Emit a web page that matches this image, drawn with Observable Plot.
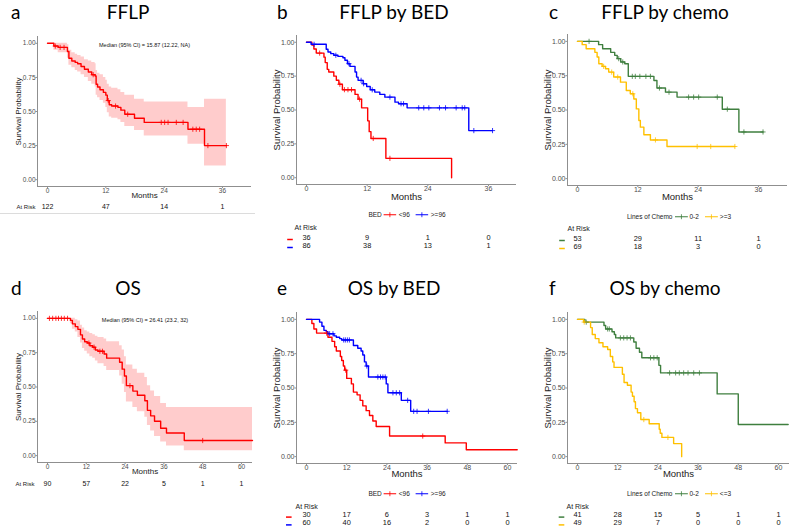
<!DOCTYPE html>
<html><head><meta charset="utf-8">
<script src="https://cdn.jsdelivr.net/npm/d3@7"></script>
<script src="https://cdn.jsdelivr.net/npm/@observablehq/plot@0.6"></script>
<style>
html,body{margin:0;padding:0;background:#fff;}
#root{position:relative;width:791px;height:530px;overflow:hidden;font-family:"Liberation Sans",Arial,sans-serif;}
.panel{position:absolute;}
.ttl{position:absolute;font-family:Lato,"Open Sans",sans-serif;font-size:19px;color:#000;white-space:nowrap;transform:translate(-50%,-50%);line-height:1;}
.let{position:absolute;font-family:Lato,"Open Sans",sans-serif;font-size:19px;color:#000;white-space:nowrap;transform:translate(0,-50%);line-height:1;}
.leg{position:absolute;transform:translate(-50%,-50%);font-size:6.5px;color:#222;white-space:nowrap;display:flex;align-items:center;gap:2px;line-height:1;}
.leg svg{display:block;}
.hr{position:absolute;left:0;top:213px;width:255px;height:0;border-top:1px solid #dcdcdc;}
</style></head><body><div id="root"></div>
<script>
// ---------- data ----------
const ticks36 = [0, 12, 24, 36];
const ticks60 = [0, 12, 24, 36, 48, 60];
const yTicks = [0, 0.25, 0.5, 0.75, 1];

const letters = ["a", "b", "c", "d", "e", "f"];
const titles = ["FFLP", "FFLP by BED", "FFLP by chemo", "OS", "OS by BED", "OS by chemo"];

// a: FFLP (all patients)
const aTime  = [0, 1.3, 2.2, 4.1, 4.4, 5.0, 5.7, 6.2, 6.9, 7.6, 8.4, 9.1, 9.8, 10.0, 10.3, 10.8, 11.5, 12.0, 12.3, 12.7, 13.2, 14.5, 15.1, 15.9, 17.9, 19.9, 28.9, 32.3, 36.8];
const aSurv  = [1, 0.98, 0.97, 0.94, 0.89, 0.87, 0.86, 0.85, 0.83, 0.81, 0.79, 0.77, 0.76, 0.70, 0.68, 0.66, 0.64, 0.62, 0.58, 0.55, 0.54, 0.53, 0.51, 0.48, 0.45, 0.42, 0.37, 0.25, 0.25];
const aUpper = [1, 1, 1, 0.99, 0.95, 0.93, 0.92, 0.91, 0.90, 0.88, 0.87, 0.86, 0.85, 0.80, 0.78, 0.77, 0.75, 0.73, 0.70, 0.68, 0.67, 0.66, 0.64, 0.62, 0.59, 0.57, 0.53, 0.59, 0.59];
const aLower = [1, 0.95, 0.93, 0.89, 0.84, 0.82, 0.80, 0.79, 0.77, 0.75, 0.72, 0.70, 0.68, 0.62, 0.60, 0.58, 0.56, 0.53, 0.49, 0.46, 0.45, 0.44, 0.42, 0.39, 0.36, 0.32, 0.26, 0.10, 0.10];
const aCensor = [1.6, 2.6, 3.4, 9.4, 12.5, 14.0, 16.5, 23.4, 24.1, 24.8, 26.5, 27.9, 29.9, 30.6, 31.3, 33.0, 36.8];
const aRisk = [122, 47, 14, 1];
const aMedian = "Median (95% CI) = 15.87 (12.22, NA)";

// b: FFLP by BED
const bLowTime  = [0, 1.06, 1.46, 1.93, 3.45, 3.7, 4.1, 4.4, 5.4, 5.9, 6.4, 7.1, 9.6, 10.2, 10.9, 12.1, 12.4, 12.75, 15.7, 28.7];
const bLowSurv  = [1, 0.98, 0.95, 0.92, 0.89, 0.85, 0.80, 0.78, 0.75, 0.72, 0.69, 0.65, 0.615, 0.58, 0.516, 0.42, 0.34, 0.29, 0.143, 0];
const bLowCensor = [2.6, 6.6, 7.5, 8.2, 8.9, 10.5, 13.2, 16.5];
const bLowRisk = [36, 9, 1, 0];
const bHighTime = [0, 0.9, 3.9, 4.25, 4.8, 5.4, 6.2, 7.2, 7.6, 8.1, 8.6, 9.6, 9.9, 10.2, 11.2, 11.9, 12.6, 13.5, 14.5, 15.5, 17.5, 18.2, 19.9, 32.1, 36.8];
const bHighSurv = [1, 0.985, 0.948, 0.928, 0.916, 0.904, 0.896, 0.886, 0.867, 0.842, 0.822, 0.78, 0.743, 0.719, 0.694, 0.674, 0.649, 0.632, 0.615, 0.595, 0.558, 0.546, 0.516, 0.348, 0.348];
const bHighCensor = [1.5, 5.8, 8.4, 10.8, 11.3, 13.0, 16.5, 18.7, 19.2, 22.2, 23.2, 24.2, 26.3, 27.5, 29.6, 30.8, 31.3, 33.1, 36.8];
const bHighRisk = [86, 38, 13, 1];

// c: FFLP by chemo
const cLowTime  = [0, 4.2, 5.0, 6.6, 7.4, 7.9, 8.6, 9.4, 10.1, 15.2, 15.8, 17.5, 19.8, 28.8, 32.1, 36.9];
const cLowSurv  = [1, 0.976, 0.946, 0.92, 0.898, 0.874, 0.85, 0.837, 0.745, 0.715, 0.66, 0.63, 0.594, 0.506, 0.34, 0.34];
const cLowCensor = [2.3, 8.2, 9.0, 10.9, 11.5, 12.4, 13.6, 14.5, 16.3, 18.2, 22.1, 23.1, 24.1, 27.8, 29.8, 33.1, 36.9];
const cLowRisk = [53, 29, 11, 1];
const cHighTime = [0, 0.93, 1.72, 3.45, 3.9, 4.24, 4.9, 5.57, 6.2, 7.2, 8.55, 9.7, 10.5, 11.2, 11.7, 12.2, 12.5, 13.2, 14.5, 17.8, 31.3];
const cHighSurv = [1, 0.976, 0.946, 0.92, 0.886, 0.837, 0.818, 0.80, 0.776, 0.74, 0.703, 0.642, 0.618, 0.58, 0.508, 0.423, 0.375, 0.32, 0.282, 0.234, 0.234];
const cHighCensor = [5.2, 6.8, 8.0, 11.0, 15.5, 23.8, 26.5, 31.3];
const cHighRisk = [69, 18, 3, 0];

// d: OS (all patients)
const dTime  = [0, 7.1, 7.7, 8.6, 9.4, 10.2, 10.8, 11.5, 12.3, 13.1, 14.0, 14.8, 15.6, 17.5, 18.3, 22.3, 23.1, 23.8, 24.4, 26.4, 27.8, 30.1, 30.9, 31.9, 33.1, 35.0, 36.8, 42.3, 63.4];
const dSurv  = [1, 0.985, 0.96, 0.94, 0.92, 0.88, 0.85, 0.83, 0.82, 0.80, 0.79, 0.77, 0.76, 0.74, 0.71, 0.68, 0.63, 0.58, 0.51, 0.47, 0.44, 0.40, 0.33, 0.29, 0.25, 0.20, 0.165, 0.11, 0.11];
const dUpper = [1, 1, 1, 0.99, 0.98, 0.95, 0.93, 0.91, 0.90, 0.89, 0.88, 0.87, 0.86, 0.85, 0.83, 0.80, 0.77, 0.72, 0.66, 0.63, 0.60, 0.57, 0.51, 0.47, 0.43, 0.38, 0.35, 0.35, 0.35];
const dLower = [1, 0.96, 0.92, 0.90, 0.86, 0.82, 0.78, 0.76, 0.74, 0.72, 0.71, 0.69, 0.67, 0.65, 0.62, 0.58, 0.52, 0.46, 0.39, 0.35, 0.32, 0.28, 0.22, 0.18, 0.14, 0.10, 0.07, 0.035, 0.035];
const dCensor = [0.6, 1.6, 2.6, 3.4, 4.3, 5.2, 6.2, 12.8, 14.4, 16.2, 17.0, 25.5, 48.0];
const dRisk = [90, 57, 22, 5, 1, 1];
const dMedian = "Median (95% CI) = 26.41 (23.2, 32)";

// e: OS by BED
const eLowTime  = [0, 1.6, 2.2, 3.0, 6.4, 7.6, 8.4, 8.9, 10.1, 10.5, 11.0, 11.4, 12.0, 13.4, 14.0, 15.1, 16.0, 16.8, 17.8, 18.8, 19.8, 20.8, 24.8, 41.4, 47.7, 62.9];
const eLowSurv  = [1, 0.97, 0.93, 0.90, 0.87, 0.84, 0.80, 0.77, 0.73, 0.70, 0.66, 0.63, 0.57, 0.53, 0.47, 0.45, 0.41, 0.37, 0.335, 0.30, 0.26, 0.22, 0.15, 0.10, 0.05, 0.05];
const eLowCensor = [6.0, 11.7, 34.7];
const eLowRisk = [30, 17, 6, 3, 1, 1];
const eHighTime = [0, 3.9, 4.6, 5.2, 5.9, 6.4, 8.2, 8.9, 9.9, 10.5, 14.0, 15.3, 16.3, 16.8, 17.3, 17.8, 18.5, 23.8, 24.3, 28.3, 31.1, 42.0];
const eHighSurv = [1, 0.98, 0.95, 0.92, 0.91, 0.895, 0.88, 0.87, 0.86, 0.85, 0.81, 0.79, 0.77, 0.74, 0.69, 0.66, 0.58, 0.53, 0.465, 0.41, 0.33, 0.33];
const eHighCensor = [6.9, 7.9, 11.1, 11.6, 12.2, 12.8, 18.0, 21.3, 22.1, 22.8, 23.5, 25.8, 26.8, 27.8, 30.2, 32.0, 33.0, 36.4, 42.0];
const eHighRisk = [60, 40, 16, 2, 0, 0];

// f: OS by chemo
const fLowTime  = [0, 2.2, 7.9, 8.4, 10.3, 11.0, 11.4, 16.8, 17.5, 18.5, 19.2, 24.3, 24.8, 41.7, 48.0, 62.9];
const fLowSurv  = [1, 0.98, 0.955, 0.93, 0.91, 0.89, 0.865, 0.835, 0.79, 0.76, 0.72, 0.665, 0.61, 0.457, 0.234, 0.234];
const fLowCensor = [2.6, 9.0, 9.5, 12.8, 13.8, 14.8, 15.8, 21.8, 22.8, 23.8, 27.5, 29.3, 30.4, 31.7, 33.0, 34.7, 36.4];
const fLowRisk = [41, 28, 15, 5, 1, 1];
const fHighTime = [0, 1.8, 3.9, 4.4, 5.3, 6.4, 7.6, 9.0, 9.8, 10.5, 10.9, 13.4, 13.9, 14.9, 16.0, 16.4, 16.9, 17.3, 17.9, 18.9, 21.4, 24.4, 24.7, 25.2, 28.7, 31.1];
const fHighSurv = [1, 0.98, 0.94, 0.89, 0.86, 0.83, 0.80, 0.78, 0.73, 0.69, 0.65, 0.60, 0.54, 0.52, 0.47, 0.44, 0.40, 0.35, 0.32, 0.27, 0.24, 0.20, 0.17, 0.14, 0.095, 0];
const fHighCensor = [2.0, 19.8, 27.0];
const fHighRisk = [49, 29, 7, 0, 0, 0];

const bedLegend = ["BED", "<96", ">=96"];
const chemoLegendC = ["Lines of Chemo", "0-2", ">=3"];
const chemoLegendF = ["Lines of Chemo", "0-2", "<=3"];

// ---------- styling ----------
const RED = "#FF0000", BLUE = "#0000FF", GREEN = "#3F7F3F", YELLOW = "#FFC000";
const AXIS = "#8f8f8f";
const small = {tick: 6.5, title: 8, risk: 7, riskLabel: 6};
const large = {tick: 7, title: 9.5, risk: 7.4, riskLabel: 7};

const panels = [
  {left: 0, top: 0, width: 265, height: 260, m: [36, 14, 74, 37], x: [-2.06, 41.97], ticks: ticks36, fs: small,
   band: {time: aTime, upper: aUpper, lower: aLower}, median: aMedian,
   series: [{time: aTime, surv: aSurv, censor: aCensor, risk: aRisk, color: RED}],
   t: {months: 11.5, ylab: -19, riskDx: -21, riskDy: 22, rows: [22]}},
  {left: 265, top: 0, width: 265, height: 260, m: [35, 14, 76, 31], x: [-1.98, 41.54], ticks: ticks36, fs: large,
   series: [{time: bLowTime, surv: bLowSurv, censor: bLowCensor, risk: bLowRisk, color: RED},
            {time: bHighTime, surv: bHighSurv, censor: bHighCensor, risk: bHighRisk, color: BLUE}],
   legend: {labels: bedLegend, colors: [RED, BLUE], cx: 142, cy: 215},
   t: {months: 15, ylab: -20, riskDx: -2, riskDy: 45, rows: [55, 63], dashDx: -6.5}},
  {left: 526, top: 0, width: 265, height: 260, m: [34, 4, 75, 41], x: [-1.99, 41.77], ticks: ticks36, fs: large,
   series: [{time: cLowTime, surv: cLowSurv, censor: cLowCensor, risk: cLowRisk, color: GREEN},
            {time: cHighTime, surv: cHighSurv, censor: cHighCensor, risk: cHighRisk, color: YELLOW}],
   legend: {labels: chemoLegendC, colors: [GREEN, YELLOW], cx: 153, cy: 217},
   t: {months: 14.5, ylab: -20, riskDx: 0, riskDy: 45, rows: [55, 63], dashDx: -5.5}},
  {left: 0, top: 265, width: 265, height: 265, m: [46, 13, 68, 37], x: [-3.09, 63.4], ticks: ticks60, fs: small,
   band: {time: dTime, upper: dUpper, lower: dLower}, median: dMedian,
   series: [{time: dTime, surv: dSurv, censor: dCensor, risk: dRisk, color: RED}],
   t: {months: 11.5, ylab: -19, riskDx: -22, riskDy: 23, rows: [23]}},
  {left: 265, top: 265, width: 265, height: 265, m: [47, 13, 67, 31], x: [-2.99, 62.99], ticks: ticks60, fs: large,
   series: [{time: eLowTime, surv: eLowSurv, censor: eLowCensor, risk: eLowRisk, color: RED},
            {time: eHighTime, surv: eHighSurv, censor: eHighCensor, risk: eHighRisk, color: BLUE}],
   legend: {labels: bedLegend, colors: [RED, BLUE], cx: 142, cy: 229},
   t: {months: 13.5, ylab: -20, riskDx: -1, riskDy: 45, rows: [53.6, 61.4], dashDx: -7.7}},
  {left: 526, top: 265, width: 265, height: 265, m: [47, 2, 67, 41], x: [-2.99, 63.3], ticks: ticks60, fs: large,
   series: [{time: fLowTime, surv: fLowSurv, censor: fLowCensor, risk: fLowRisk, color: GREEN},
            {time: fHighTime, surv: fHighSurv, censor: fHighCensor, risk: fHighRisk, color: YELLOW}],
   legend: {labels: chemoLegendF, colors: [GREEN, YELLOW], cx: 153, cy: 229},
   t: {months: 13.5, ylab: -20, riskDx: -1, riskDy: 45, rows: [53.6, 61.4], dashDx: -6}}
];
const titlePos = [[128, 11, 11], [394, 11, 277], [665, 11, 549], [128, 287, 11], [394, 287, 277], [665, 287, 549]];

// ---------- helpers ----------
const stepRows = (time, surv) => time.map((t, i) => ({t, s: surv[i]}));
const censorRows = (time, surv, cens) => cens.map(c => ({t: c, s: surv[Math.max(0, d3.bisectRight(time, c) - 1)]}));
const bandRows = (time, lo, hi) => time.map((t, i) => ({t, lo: lo[i], hi: hi[i]}));
const dashSymbol = {draw(ctx, size) { const w = Math.sqrt(size / Math.PI); ctx.moveTo(-w, 0); ctx.lineTo(w, 0); }};

function buildPanel(p) {
  const marks = [];
  if (p.band) marks.push(Plot.areaY(bandRows(p.band.time, p.band.lower, p.band.upper),
    {x: "t", y1: "lo", y2: "hi", curve: "step-after", fill: RED, fillOpacity: 0.2}));
  for (const s of p.series)
    marks.push(Plot.line(stepRows(s.time, s.surv), {x: "t", y: "s", curve: "step-after", stroke: s.color, strokeWidth: 1.4}));
  for (const s of p.series)
    marks.push(Plot.dot(censorRows(s.time, s.surv, s.censor), {x: "t", y: "s", symbol: "plus", r: 1.8, stroke: s.color, strokeWidth: 0.8}));
  marks.push(Plot.ruleX([p.x[0]], {stroke: AXIS}));
  marks.push(Plot.ruleY([-0.05], {stroke: AXIS}));
  marks.push(Plot.axisX(p.ticks, {tickSize: 2, tickPadding: 0, fontSize: p.fs.tick, stroke: AXIS, fill: "#4d4d4d", label: null}));
  marks.push(Plot.axisY(yTicks, {tickSize: 1.5, tickPadding: 0.5, fontSize: p.fs.tick, stroke: AXIS, fill: "#4d4d4d", label: null, tickFormat: d3.format(".2f")}));
  marks.push(Plot.text(["Months"], {frameAnchor: "bottom", dy: p.t.months, fontSize: p.fs.title, fill: "#222"}));
  marks.push(Plot.text(["Survival Probability"], {frameAnchor: "left", textAnchor: "middle", rotate: -90, dx: p.t.ylab, fontSize: p.fs.title, fill: "#222"}));
  if (p.median) marks.push(Plot.text([p.median], {frameAnchor: "top", dy: 7, fontSize: 5.5, fill: "#111"}));
  marks.push(Plot.text(["At Risk"], {frameAnchor: "bottom-left", textAnchor: "start", dx: p.t.riskDx, dy: p.t.riskDy, fontSize: p.fs.riskLabel, fill: "#222"}));
  p.series.forEach((s, k) => {
    const dy = p.t.rows[k];
    marks.push(Plot.text(p.ticks.map((t, i) => ({t, n: s.risk[i]})), {x: "t", text: d => String(d.n), frameAnchor: "bottom", dy, fontSize: p.fs.risk, fill: "#111"}));
    if (p.series.length > 1) marks.push(Plot.dot([0], {frameAnchor: "bottom-left", dx: p.t.dashDx, dy, symbol: dashSymbol, r: 2.8, fill: "none", stroke: s.color, strokeWidth: 1.5}));
  });
  return Plot.plot({
    width: p.width, height: p.height,
    marginTop: p.m[0], marginRight: p.m[1], marginBottom: p.m[2], marginLeft: p.m[3],
    x: {domain: p.x}, y: {domain: [-0.05, 1.05]},
    style: {fontFamily: '"Liberation Sans", Arial, sans-serif', background: "transparent", overflow: "visible"},
    marks
  });
}

function glyph(color) {
  return `<svg width="13" height="6"><line x1="0" y1="3" x2="13" y2="3" stroke="${color}" stroke-width="1.2"/><line x1="6.5" y1="0.5" x2="6.5" y2="5.5" stroke="${color}" stroke-width="0.8"/></svg>`;
}
const esc = s => s.replace(/&/g, "&amp;").replace(/</g, "&lt;").replace(/>/g, "&gt;");

const root = document.getElementById("root");
panels.forEach((p, i) => {
  const div = document.createElement("div");
  div.className = "panel";
  div.style.left = p.left + "px"; div.style.top = p.top + "px";
  div.style.width = p.width + "px"; div.style.height = p.height + "px";
  div.appendChild(buildPanel(p));
  if (p.legend) {
    const lg = document.createElement("div");
    lg.className = "leg";
    lg.style.left = p.legend.cx + "px"; lg.style.top = (p.legend.cy) + "px";
    const [name, l1, l2] = p.legend.labels;
    lg.innerHTML = `<span>${esc(name)}</span>${glyph(p.legend.colors[0])}<span>${esc(l1)}</span><span style="width:2px"></span>${glyph(p.legend.colors[1])}<span>${esc(l2)}</span>`;
    div.appendChild(lg);
  }
  root.appendChild(div);
  const [cx, cy, lx] = titlePos[i];
  const t = document.createElement("div"); t.className = "ttl"; t.textContent = titles[i];
  t.style.left = cx + "px"; t.style.top = cy + "px"; root.appendChild(t);
  const l = document.createElement("div"); l.className = "let"; l.textContent = letters[i];
  l.style.left = lx + "px"; l.style.top = cy + "px"; root.appendChild(l);
});
const hr = document.createElement("div"); hr.className = "hr"; root.appendChild(hr);
</script></body></html>
